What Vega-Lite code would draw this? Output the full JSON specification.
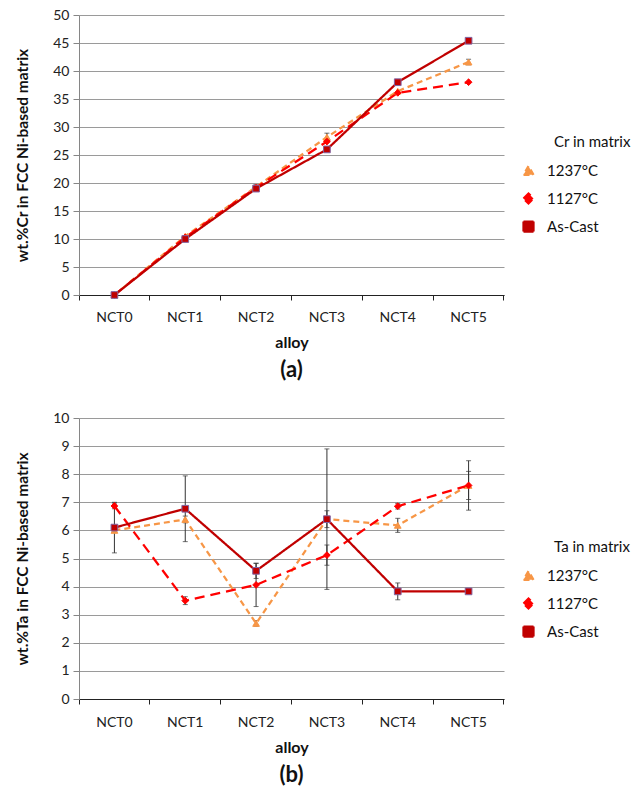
{
  "$schema": "https://vega.github.io/schema/vega-lite/v6.json",
  "padding": {"left": 15, "top": 8, "right": 5, "bottom": 5},
  "spacing": 30,
  "resolve": {
    "scale": {"color": "independent", "shape": "independent", "stroke": "independent", "strokeDash": "independent", "y": "independent", "x": "independent"},
    "legend": {"color": "independent"}
  },
  "config": {
    "font": "Lato",
    "view": {"stroke": null},
    "axis": {"labelFont": "Lato", "titleFont": "Lato", "labelColor": "#222", "titleColor": "#111"},
    "title": {"font": "Lato", "color": "#111"},
    "legend": {"labelFont": "Lato", "titleFont": "Lato"}
  },
  "datasets": {
    "cr": [
      {"series": "1237°C", "alloy": "NCT0", "v": 0, "err": 0},
      {"series": "1237°C", "alloy": "NCT1", "v": 10.5, "err": 0},
      {"series": "1237°C", "alloy": "NCT2", "v": 19.3, "err": 0.4},
      {"series": "1237°C", "alloy": "NCT3", "v": 28.2, "err": 0.7},
      {"series": "1237°C", "alloy": "NCT4", "v": 36.4, "err": 0},
      {"series": "1237°C", "alloy": "NCT5", "v": 41.6, "err": 0.5},
      {"series": "1127°C", "alloy": "NCT0", "v": 0, "err": 0},
      {"series": "1127°C", "alloy": "NCT1", "v": 10.3, "err": 0},
      {"series": "1127°C", "alloy": "NCT2", "v": 19.2, "err": 0},
      {"series": "1127°C", "alloy": "NCT3", "v": 27.4, "err": 0},
      {"series": "1127°C", "alloy": "NCT4", "v": 36.1, "err": 0},
      {"series": "1127°C", "alloy": "NCT5", "v": 38.0, "err": 0},
      {"series": "As-Cast", "alloy": "NCT0", "v": 0, "err": 0},
      {"series": "As-Cast", "alloy": "NCT1", "v": 10.0, "err": 0},
      {"series": "As-Cast", "alloy": "NCT2", "v": 19.0, "err": 0},
      {"series": "As-Cast", "alloy": "NCT3", "v": 26.0, "err": 0},
      {"series": "As-Cast", "alloy": "NCT4", "v": 38.0, "err": 0},
      {"series": "As-Cast", "alloy": "NCT5", "v": 45.4, "err": 0}
    ],
    "ta": [
      {"series": "1237°C", "alloy": "NCT0", "v": 6.0, "err": 0},
      {"series": "1237°C", "alloy": "NCT1", "v": 6.39, "err": 0.12},
      {"series": "1237°C", "alloy": "NCT2", "v": 2.69, "err": 0.1},
      {"series": "1237°C", "alloy": "NCT3", "v": 6.4, "err": 0.3},
      {"series": "1237°C", "alloy": "NCT4", "v": 6.18, "err": 0.25},
      {"series": "1237°C", "alloy": "NCT5", "v": 7.6, "err": 0.5},
      {"series": "1127°C", "alloy": "NCT0", "v": 6.87, "err": 0.1},
      {"series": "1127°C", "alloy": "NCT1", "v": 3.5, "err": 0.14},
      {"series": "1127°C", "alloy": "NCT2", "v": 4.06, "err": 0.77},
      {"series": "1127°C", "alloy": "NCT3", "v": 5.12, "err": 0.36},
      {"series": "1127°C", "alloy": "NCT4", "v": 6.86, "err": 0.1},
      {"series": "1127°C", "alloy": "NCT5", "v": 7.6, "err": 0.88},
      {"series": "As-Cast", "alloy": "NCT0", "v": 6.1, "err": 0.9},
      {"series": "As-Cast", "alloy": "NCT1", "v": 6.77, "err": 1.17},
      {"series": "As-Cast", "alloy": "NCT2", "v": 4.56, "err": 0.27},
      {"series": "As-Cast", "alloy": "NCT3", "v": 6.4, "err": 2.5},
      {"series": "As-Cast", "alloy": "NCT4", "v": 3.83, "err": 0.3},
      {"series": "As-Cast", "alloy": "NCT5", "v": 3.83, "err": 0}
    ]
  },
  "vconcat": [
    {
      "width": 425,
      "height": 280,
      "data": {"name": "cr"},
      "title": {"text": "(a)", "orient": "bottom", "fontSize": 22, "fontWeight": "bold", "offset": 10},
      "encoding": {
        "x": {
          "field": "alloy", "type": "nominal",
          "sort": ["NCT0", "NCT1", "NCT2", "NCT3", "NCT4", "NCT5"],
          "scale": {"type": "band", "paddingInner": 0, "paddingOuter": 0},
          "axis": {"title": "alloy", "titleFontSize": 16, "titleFontWeight": "bold", "titlePadding": 10, "labelAngle": 0, "labelFontSize": 14, "labelPadding": 10, "bandPosition": 1, "tickExtra": true, "grid": false, "domainColor": "#222", "tickColor": "#222", "tickSize": 5}
        },
        "y": {"field": "v", "type": "quantitative", "scale": {"domain": [0, 50]},
          "axis": {"title": "wt.%Cr in FCC Ni-based matrix", "titleFontSize": 15.5, "titleFontWeight": "bold", "titlePadding": 22, "values": [0,5,10,15,20,25,30,35,40,45,50], "labelFontSize": 14, "labelPadding": 4, "tickSize": 6, "domainColor": "#868686", "tickColor": "#868686", "gridColor": "#9a9a9a", "gridWidth": 1}}
      },
      "layer": [
        {
          "transform": [{"filter": "datum.err > 0"}],
          "mark": {"type": "errorbar", "ticks": {"size": 5, "color": "#333"}, "color": "#333", "thickness": 1},
          "encoding": {"yError": {"field": "err"}}
        },
        {
          "mark": {"type": "line", "strokeWidth": 2.25},
          "encoding": {
            "color": {"field": "series", "type": "nominal",
              "scale": {"domain": ["1237°C", "1127°C", "As-Cast"], "range": ["#F79646", "#FF0000", "#C00000"]},
              "legend": {"title": "Cr in matrix", "orient": "none", "legendX": 475, "legendY": 120, "padding": 0,
                "titleFontSize": 15, "titleFontWeight": "normal", "titleColor": "#111", "titlePadding": 13,
                "labelFontSize": 15, "labelColor": "#111", "symbolSize": 100, "rowPadding": 9, "labelOffset": 11, "symbolOffset": -33,
                "encode": {"symbols": {"update": {
                  "shape": {"value": {"expr": "datum.value === '1237°C' ? 'M-2,0H2M0,-0.65L0.6,0.45H-0.6Z' : (datum.value === '1127°C' ? 'M-2,0H2M0,-0.6L0.5,0L0,0.6L-0.5,0Z' : 'M-2,0H2M-0.6,-0.6H0.6V0.6H-0.6Z')"}},
                  "fill": {"value": {"expr": "datum.value === '1237°C' ? '#F79646' : (datum.value === '1127°C' ? '#FF0000' : '#C00000')"}},
                  "stroke": {"value": {"expr": "datum.value === '1237°C' ? '#F79646' : (datum.value === '1127°C' ? '#FF0000' : '#C00000')"}},
                  "strokeDash": {"value": {"expr": "datum.value === 'As-Cast' ? [1,0] : [4,2]"}},
                  "strokeWidth": {"value": 2.25},
                  "opacity": {"value": 1}
                }}}
              }},
            "strokeDash": {"field": "series", "type": "nominal", "legend": null,
              "scale": {"domain": ["1237°C", "1127°C", "As-Cast"], "range": [[6, 4], [10, 6], [1, 0]]}}
          }
        },
        {
          "mark": {"type": "point", "filled": true, "size": 45, "opacity": 1, "strokeWidth": 1},
          "encoding": {
            "color": {"field": "series", "type": "nominal", "legend": null},
            "shape": {"field": "series", "type": "nominal", "legend": null,
              "scale": {"domain": ["1237°C", "1127°C", "As-Cast"], "range": ["triangle-up", "diamond", "square"]}},
            "stroke": {"field": "series", "type": "nominal", "legend": null,
              "scale": {"domain": ["1237°C", "1127°C", "As-Cast"], "range": ["#F79646", "#FF0000", "#8064A2"]}}
          }
        }
      ]
    },
    {
      "width": 425,
      "height": 281,
      "data": {"name": "ta"},
      "title": {"text": "(b)", "orient": "bottom", "fontSize": 22, "fontWeight": "bold", "offset": 10},
      "encoding": {
        "x": {
          "field": "alloy", "type": "nominal",
          "sort": ["NCT0", "NCT1", "NCT2", "NCT3", "NCT4", "NCT5"],
          "scale": {"type": "band", "paddingInner": 0, "paddingOuter": 0},
          "axis": {"title": "alloy", "titleFontSize": 16, "titleFontWeight": "bold", "titlePadding": 10, "labelAngle": 0, "labelFontSize": 14, "labelPadding": 11, "bandPosition": 1, "tickExtra": true, "grid": false, "domainColor": "#222", "tickColor": "#222", "tickSize": 5}
        },
        "y": {"field": "v", "type": "quantitative", "scale": {"domain": [0, 10]},
          "axis": {"title": "wt.%Ta in FCC Ni-based matrix", "titleFontSize": 15.5, "titleFontWeight": "bold", "titlePadding": 22, "values": [0,1,2,3,4,5,6,7,8,9,10], "labelFontSize": 14, "labelPadding": 4, "tickSize": 6, "domainColor": "#868686", "tickColor": "#868686", "gridColor": "#9a9a9a", "gridWidth": 1}}
      },
      "layer": [
        {
          "transform": [{"filter": "datum.err > 0"}],
          "mark": {"type": "errorbar", "ticks": {"size": 5, "color": "#333"}, "color": "#333", "thickness": 1},
          "encoding": {"yError": {"field": "err"}}
        },
        {
          "mark": {"type": "line", "strokeWidth": 2.25},
          "encoding": {
            "color": {"field": "series", "type": "nominal",
              "scale": {"domain": ["1237°C", "1127°C", "As-Cast"], "range": ["#F79646", "#FF0000", "#C00000"]},
              "legend": {"title": "Ta in matrix", "orient": "none", "legendX": 475, "legendY": 122, "padding": 0,
                "titleFontSize": 15, "titleFontWeight": "normal", "titleColor": "#111", "titlePadding": 13,
                "labelFontSize": 15, "labelColor": "#111", "symbolSize": 100, "rowPadding": 9, "labelOffset": 11, "symbolOffset": -33,
                "encode": {"symbols": {"update": {
                  "shape": {"value": {"expr": "datum.value === '1237°C' ? 'M-2,0H2M0,-0.65L0.6,0.45H-0.6Z' : (datum.value === '1127°C' ? 'M-2,0H2M0,-0.6L0.5,0L0,0.6L-0.5,0Z' : 'M-2,0H2M-0.6,-0.6H0.6V0.6H-0.6Z')"}},
                  "fill": {"value": {"expr": "datum.value === '1237°C' ? '#F79646' : (datum.value === '1127°C' ? '#FF0000' : '#C00000')"}},
                  "stroke": {"value": {"expr": "datum.value === '1237°C' ? '#F79646' : (datum.value === '1127°C' ? '#FF0000' : '#C00000')"}},
                  "strokeDash": {"value": {"expr": "datum.value === 'As-Cast' ? [1,0] : [4,2]"}},
                  "strokeWidth": {"value": 2.25},
                  "opacity": {"value": 1}
                }}}
              }},
            "strokeDash": {"field": "series", "type": "nominal", "legend": null,
              "scale": {"domain": ["1237°C", "1127°C", "As-Cast"], "range": [[6, 4], [10, 6], [1, 0]]}}
          }
        },
        {
          "mark": {"type": "point", "filled": true, "size": 45, "opacity": 1, "strokeWidth": 1},
          "encoding": {
            "color": {"field": "series", "type": "nominal", "legend": null},
            "shape": {"field": "series", "type": "nominal", "legend": null,
              "scale": {"domain": ["1237°C", "1127°C", "As-Cast"], "range": ["triangle-up", "diamond", "square"]}},
            "stroke": {"field": "series", "type": "nominal", "legend": null,
              "scale": {"domain": ["1237°C", "1127°C", "As-Cast"], "range": ["#F79646", "#FF0000", "#8064A2"]}}
          }
        }
      ]
    }
  ]
}
